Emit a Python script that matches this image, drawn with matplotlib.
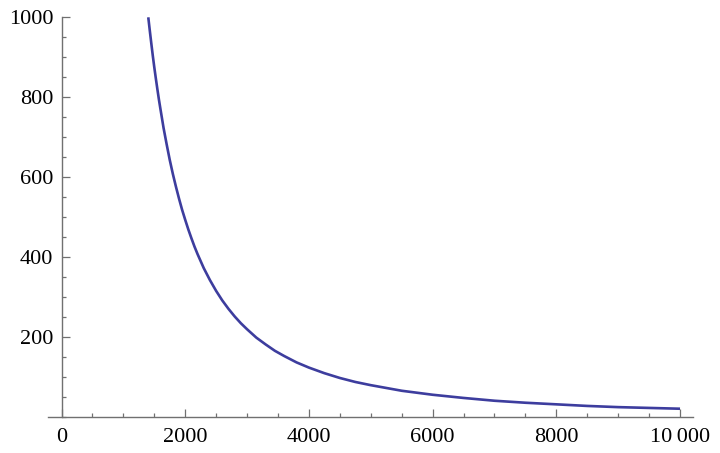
import matplotlib
matplotlib.use("Agg")
import matplotlib.pyplot as plt
from matplotlib.ticker import MultipleLocator, FixedLocator
from matplotlib import font_manager

# values
x_vals = [1403, 1425, 1450, 1475, 1500, 1525, 1550, 1575, 1600, 1650, 1700, 1750, 1800,
          1850, 1900, 1950, 2000, 2050, 2100, 2150, 2200, 2300, 2400, 2500, 2600,
          2700, 2800, 2900, 3000, 3150, 3300, 3450, 3600, 3800, 4000, 4250, 4500,
          4750, 5000, 5500, 6000, 6500, 7000, 7500, 8000, 8500, 9000, 9500, 10000]
y_vals = [1000, 970, 937, 905, 875, 847, 820, 794, 770, 723, 682, 643, 608,
          576, 546, 518, 493, 469, 447, 426, 407, 372, 342, 315, 291,
          270, 251, 234, 219, 198, 181, 165, 152, 136, 123, 109, 97,
          87, 79, 65, 55, 47, 40, 35, 31, 27, 24, 22, 20]

x_ticks = [0, 2000, 4000, 6000, 8000, 10000]
x_tick_labels = ["0", "2000", "4000", "6000", "8000", "10\u2009000"]
y_ticks = [200, 400, 600, 800, 1000]
y_tick_labels = ["200", "400", "600", "800", "1000"]

names = {f.name for f in font_manager.fontManager.ttflist}
serif = [n for n in ['Liberation Serif', 'Tinos', 'Times New Roman', 'DejaVu Serif'] if n in names]
plt.rcParams['font.family'] = serif

fig = plt.figure(figsize=(7.2, 4.53), dpi=100)
ax = fig.add_axes([0.0667, 0.0801, 0.8958, 0.8817])

ax.plot(x_vals, y_vals, color='#3d3d9e', lw=1.9, solid_capstyle='butt',
        solid_joinstyle='round')

ax.set_xlim(-218, 10210)
ax.set_ylim(0, 1000)

for s in ['top', 'right']:
    ax.spines[s].set_visible(False)
ax.spines['left'].set_position(('data', 0))
ax.spines['bottom'].set_position(('data', 0))
axis_col = '#707070'
for s in ['left', 'bottom']:
    ax.spines[s].set_color(axis_col)
    ax.spines[s].set_linewidth(1.0)

ax.xaxis.set_major_locator(FixedLocator(x_ticks))
ax.set_xticklabels(x_tick_labels, fontfamily=serif)
ax.xaxis.set_minor_locator(MultipleLocator(500))
ax.yaxis.set_major_locator(FixedLocator(y_ticks))
ax.set_yticklabels(y_tick_labels, fontfamily=serif)
ax.yaxis.set_minor_locator(MultipleLocator(50))

ax.tick_params(which='both', direction='in', color=axis_col, width=0.9,
               labelsize=16, labelcolor='black')
ax.tick_params(which='major', length=5.5)
ax.tick_params(which='minor', length=3.2)
ax.tick_params(axis='y', pad=6)
ax.tick_params(axis='x', pad=8)

fig.savefig('out.png', dpi=100)
